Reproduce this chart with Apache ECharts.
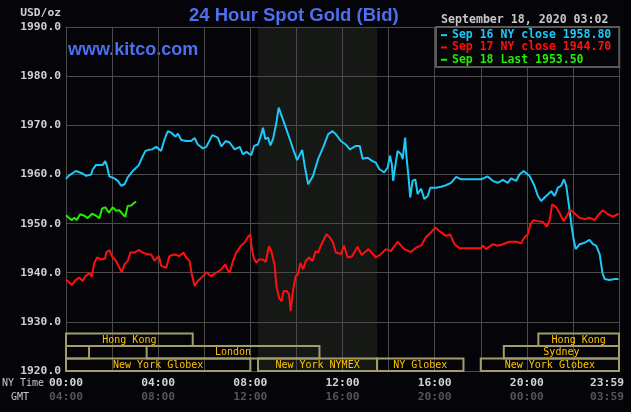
<!DOCTYPE html>
<html><head><meta charset="utf-8">
<script src="https://cdn.jsdelivr.net/npm/echarts@6/dist/echarts.min.js"></script>
<style>html,body{margin:0;padding:0;background:#050408;}#c{width:631px;height:412px;}</style>
</head><body><div id="c"></div>
<script>
// ---- data (hours since 00:00 NY time, price USD/oz) ----
const sep16Name = 'Sep 16 NY close 1958.80';
const sep16Hours = [0,0.14,0.43,0.72,0.87,1.09,1.16,1.30,1.59,1.70,1.78,1.88,2.10,2.25,2.39,2.54,2.68,2.90,3.16,3.30,3.45,3.59,3.74,3.91,4.13,4.28,4.42,4.57,4.75,4.86,5.00,5.22,5.43,5.58,5.72,5.94,6.09,6.35,6.59,6.74,6.93,7.10,7.32,7.54,7.68,7.83,8.04,8.16,8.33,8.48,8.55,8.65,8.77,8.87,8.99,9.13,9.23,9.35,9.49,9.71,9.86,10.03,10.25,10.36,10.51,10.72,10.94,11.16,11.38,11.57,11.71,11.93,12.14,12.32,12.58,12.75,12.87,13.09,13.30,13.45,13.59,13.81,13.96,14.06,14.14,14.20,14.28,14.39,14.54,14.61,14.72,14.78,14.86,14.94,15.04,15.16,15.26,15.41,15.55,15.70,15.81,16.06,16.28,16.49,16.71,16.93,17.14,17.51,18.01,18.30,18.52,18.74,18.96,19.17,19.32,19.54,19.68,19.86,20.12,20.33,20.48,20.62,20.84,21.06,21.20,21.35,21.49,21.61,21.71,21.83,21.93,22.03,22.12,22.29,22.51,22.72,22.87,23.01,23.16,23.28,23.38,23.59,23.81,23.98];
const sep16Prices = [1959.1,1959.8,1960.7,1960.2,1959.7,1960.0,1961.0,1961.9,1961.9,1962.7,1961.7,1959.6,1959.2,1958.7,1957.7,1958.0,1959.4,1960.7,1961.9,1963.4,1964.8,1965.0,1965.1,1965.6,1964.8,1967.2,1968.8,1968.5,1967.7,1968.3,1967.0,1966.8,1966.8,1967.4,1966.1,1965.3,1965.6,1968.0,1967.5,1965.7,1966.8,1966.5,1965.1,1965.6,1964.1,1964.6,1963.9,1965.8,1966.1,1968.2,1969.5,1967.2,1967.5,1965.9,1967.3,1970.5,1973.6,1972.0,1970.2,1967.2,1965.1,1962.9,1965.0,1961.7,1958.0,1959.7,1963.1,1965.5,1968.2,1968.8,1968.2,1966.8,1966.1,1965.1,1965.8,1965.8,1963.2,1963.4,1962.7,1962.4,1961.1,1960.4,1961.4,1963.8,1962.1,1958.7,1961.4,1964.8,1964.1,1963.1,1967.5,1963.4,1959.7,1955.3,1958.7,1959.0,1956.0,1957.1,1955.0,1955.6,1957.3,1957.3,1957.5,1957.8,1958.3,1959.5,1959.0,1959.0,1959.0,1959.6,1958.7,1958.3,1958.9,1958.3,1959.2,1958.7,1960.0,1960.7,1959.7,1957.7,1955.6,1954.6,1955.6,1956.6,1955.6,1957.3,1957.7,1959.0,1957.7,1953.6,1949.9,1946.8,1944.8,1945.8,1946.1,1946.7,1945.8,1945.5,1943.8,1940.0,1938.7,1938.5,1938.7,1938.7];

const sep17Name = 'Sep 17 NY close 1944.70';
const sep17Hours = [0,0.14,0.26,0.41,0.58,0.72,0.84,1.01,1.12,1.23,1.35,1.52,1.70,1.74,1.88,1.96,2.03,2.17,2.32,2.42,2.54,2.68,2.80,2.97,3.16,3.33,3.55,3.70,3.84,4.03,4.13,4.35,4.49,4.71,4.93,5.10,5.22,5.36,5.46,5.58,5.72,5.94,6.09,6.30,6.52,6.74,6.91,7.00,7.10,7.25,7.39,7.61,7.75,7.90,8.00,8.04,8.14,8.26,8.38,8.55,8.67,8.81,8.91,9.06,9.13,9.25,9.35,9.45,9.57,9.68,9.75,9.86,9.97,10.07,10.17,10.29,10.41,10.55,10.70,10.84,10.94,11.09,11.30,11.45,11.59,11.71,11.93,12.07,12.22,12.41,12.65,12.83,13.13,13.45,13.67,13.88,14.10,14.39,14.68,14.97,15.19,15.41,15.62,15.84,16.03,16.28,16.49,16.67,16.86,17.07,17.51,18.01,18.09,18.23,18.52,18.74,18.96,19.25,19.54,19.75,19.90,20.04,20.16,20.29,20.48,20.70,20.87,20.99,21.10,21.28,21.45,21.59,21.74,21.88,22.07,22.29,22.51,22.72,22.94,23.13,23.30,23.52,23.74,23.98];
const sep17Prices = [1938.6,1938.0,1937.5,1938.5,1939.0,1938.3,1939.3,1939.9,1939.2,1942.0,1943.1,1942.7,1942.9,1944.1,1944.6,1944.9,1943.1,1942.4,1941.0,1940.1,1941.7,1942.4,1944.1,1944.1,1944.6,1944.1,1943.7,1943.7,1942.4,1943.4,1941.4,1941.0,1943.4,1943.7,1943.4,1944.1,1943.1,1942.4,1939.7,1937.3,1938.3,1939.3,1940.1,1939.3,1940.0,1940.7,1941.7,1940.7,1940.0,1942.4,1944.1,1945.6,1946.1,1947.3,1947.8,1945.8,1943.1,1942.0,1942.7,1942.7,1942.2,1945.4,1944.4,1941.4,1937.3,1934.9,1934.2,1936.3,1936.3,1935.6,1932.2,1936.6,1939.3,1939.7,1942.0,1940.7,1942.4,1943.1,1942.4,1944.4,1944.1,1945.8,1947.8,1947.2,1946.1,1944.1,1943.8,1945.5,1943.1,1943.3,1945.3,1943.6,1944.8,1943.1,1943.8,1944.8,1944.4,1946.3,1944.8,1944.2,1945.1,1945.5,1947.2,1948.2,1949.2,1948.2,1947.5,1947.8,1945.8,1945.0,1945.0,1945.0,1945.5,1944.8,1945.8,1945.5,1945.8,1946.3,1946.3,1946.0,1947.2,1947.8,1949.9,1950.7,1950.5,1950.3,1949.4,1950.7,1953.9,1953.3,1951.9,1950.5,1951.6,1952.8,1952.1,1951.2,1950.9,1951.2,1950.7,1951.9,1952.7,1951.9,1951.4,1952.0];

const sep18Name = 'Sep 18 Last 1953.50';
const sep18Hours = [0,0.12,0.26,0.36,0.46,0.61,0.80,0.94,1.13,1.30,1.45,1.57,1.71,1.86,2.03,2.17,2.32,2.46,2.57,2.68,2.83,2.93,3.04];
const sep18Prices = [1951.7,1951.2,1950.7,1951.2,1950.7,1951.9,1951.6,1951.1,1952.0,1951.6,1951.1,1953.1,1953.3,1952.2,1953.3,1952.6,1952.7,1951.9,1951.4,1953.6,1953.7,1954.1,1954.5];

// tick labels
const nyTimeLabels = ['00:00','04:00','08:00','12:00','16:00','20:00','23:59'];
const gmtLabels    = ['04:00','08:00','12:00','16:00','20:00','00:00','03:59'];

// trading sessions (hours NY time), row 0 = bottom
const sessionNames = ['Hong Kong','','London','New York Globex','New York NYMEX','NY Globex','New York Globex','Sydney','Hong Kong'];
const sessionStart = [0,0,3.5,0,8.333,13.5,18,19,20.5];
const sessionEnd   = [5.5,1,11,8,13.5,17.25,24,24,24];
const sessionRow   = [2,1,1,0,0,0,0,1,2];
// NYMEX pit session (shaded)
const pitSession = [8.333, 13.5];

// ---- chart ----
const MONO = "'DejaVu Sans Mono', monospace";
const SANS = "'Liberation Sans', Arial, sans-serif";
const GRID = '#4a4a4a';
const zip = (h, p) => h.map((x, i) => [x, p[i]]);
const lbl = (color, pad) => ({color: color, fontFamily: MONO, fontWeight: 'bold', fontSize: 11.3, lineHeight: 14, padding: pad});

const chart = echarts.init(document.getElementById('c'), null, {renderer: 'canvas'});
chart.setOption({
  animation: false,
  backgroundColor: '#050408',
  grid: {left: 66, right: 12, top: 27, bottom: 41, containLabel: false, outerBoundsMode: 'none'},
  xAxis: {
    type: 'value', min: 0, max: 24, interval: 2,
    axisLine: {show: true, lineStyle: {color: GRID}},
    axisTick: {show: false},
    splitLine: {show: true, lineStyle: {color: GRID, width: 1}},
    axisLabel: {
      margin: 5, showMinLabel: true, showMaxLabel: true,
      formatter: v => {
        if (v % 4) return '';
        const i = v / 4;
        const last = i === nyTimeLabels.length - 1;
        return '{' + (last ? 'c' : 'a') + '|' + nyTimeLabels[i] + '}\n{' + (last ? 'd' : 'b') + '|' + gmtLabels[i] + '}';
      },
      rich: {
        a: lbl('#d4d4d4', [0, 0, 0, 0]),
        b: lbl('#555555', [0, 0, 0, 0]),
        c: lbl('#d4d4d4', [0, 24, 0, 0]),
        d: lbl('#555555', [0, 24, 0, 0])
      }
    }
  },
  yAxis: {
    type: 'value', min: 1920, max: 1990, interval: 10,
    axisLine: {show: true, lineStyle: {color: GRID}},
    axisTick: {show: false},
    splitLine: {show: true, lineStyle: {color: GRID, width: 1}},
    axisLabel: {margin: 5, color: '#d0d0d0', fontFamily: MONO, fontWeight: 'bold', fontSize: 11.3,
      formatter: v => v.toFixed(1)}
  },
  legend: {
    data: [
      {name: sep16Name, textStyle: {color: '#1ec8f8'}},
      {name: sep17Name, textStyle: {color: '#ff1010'}},
      {name: sep18Name, textStyle: {color: '#22ee00'}}
    ],
    orient: 'vertical', left: 436, top: 27,
    icon: 'rect', itemWidth: 6, itemHeight: 2, itemGap: 0,
    padding: [2, 8, 1, 5],
    backgroundColor: '#050408', borderColor: '#5a5a5a', borderWidth: 2,
    selectedMode: false,
    textStyle: {fontFamily: MONO, fontWeight: 'bold', fontSize: 11.5, lineHeight: 12.3}
  },
  graphic: [
    {type: 'text', x: 61, y: 13, style: {text: 'USD/oz', align: 'right', verticalAlign: 'middle', fill: '#d0d0d0', font: 'bold 11.3px ' + MONO}},
    {type: 'text', x: 189, y: 16, style: {text: '24 Hour Spot Gold (Bid)', verticalAlign: 'middle', fill: '#4d6ff0', font: 'bold 18.5px ' + SANS}},
    {type: 'text', x: 68, y: 50, style: {text: 'www.kitco.com', verticalAlign: 'middle', fill: '#4d6ff0', font: 'bold 18px ' + SANS}},
    {type: 'text', x: 441, y: 19.5, style: {text: 'September 18, 2020 03:02', verticalAlign: 'middle', fill: '#c8c8c8', font: 'bold 11.6px ' + MONO}},
    {type: 'text', x: 2, y: 383, style: {text: 'NY Time', verticalAlign: 'middle', fill: '#c8c8c8', font: '10px ' + MONO}},
    {type: 'text', x: 11, y: 397, style: {text: 'GMT', verticalAlign: 'middle', fill: '#c8c8c8', font: '10px ' + MONO}}
  ],
  series: [
    {
      type: 'custom', name: 'pit', z: -1, silent: true,
      data: [pitSession],
      encode: {x: [0, 1]},
      renderItem: (params, api) => {
        const a = api.coord([api.value(0), 1990]);
        const b = api.coord([api.value(1), 1920]);
        return {type: 'rect', shape: {x: a[0], y: a[1], width: b[0] - a[0], height: b[1] - a[1]}, style: {fill: '#151815'}};
      }
    },
    {type: 'line', name: sep16Name, data: zip(sep16Hours, sep16Prices), showSymbol: false, color: '#1ec8f8', lineStyle: {width: 2, color: '#1ec8f8'}, z: 3},
    {type: 'line', name: sep17Name, data: zip(sep17Hours, sep17Prices), showSymbol: false, color: '#ff1010', lineStyle: {width: 2, color: '#ff1010'}, z: 3},
    {type: 'line', name: sep18Name, data: zip(sep18Hours, sep18Prices), showSymbol: false, color: '#22ee00', lineStyle: {width: 2, color: '#22ee00'}, z: 3},
    {
      type: 'custom', name: 'sessions', z: 5, silent: true,
      data: sessionStart.map((s, i) => [s, sessionEnd[i], sessionRow[i]]),
      encode: {x: [0, 1]},
      renderItem: (params, api) => {
        const rowH = 2.55;
        const lo = 1920 + api.value(2) * rowH;
        const a = api.coord([api.value(0), lo + rowH]);
        const b = api.coord([api.value(1), lo]);
        return {type: 'group', children: [
          {type: 'rect', shape: {x: a[0], y: a[1], width: b[0] - a[0], height: b[1] - a[1]},
           style: {fill: null, stroke: '#a39d6c', lineWidth: 2}},
          {type: 'text', style: {text: sessionNames[params.dataIndex], x: (a[0] + b[0]) / 2, y: (a[1] + b[1]) / 2 + 0.5,
           align: 'center', verticalAlign: 'middle', fill: '#ffc400', font: '10px ' + MONO}}
        ]};
      }
    }
  ]
});
</script>
</body></html>
